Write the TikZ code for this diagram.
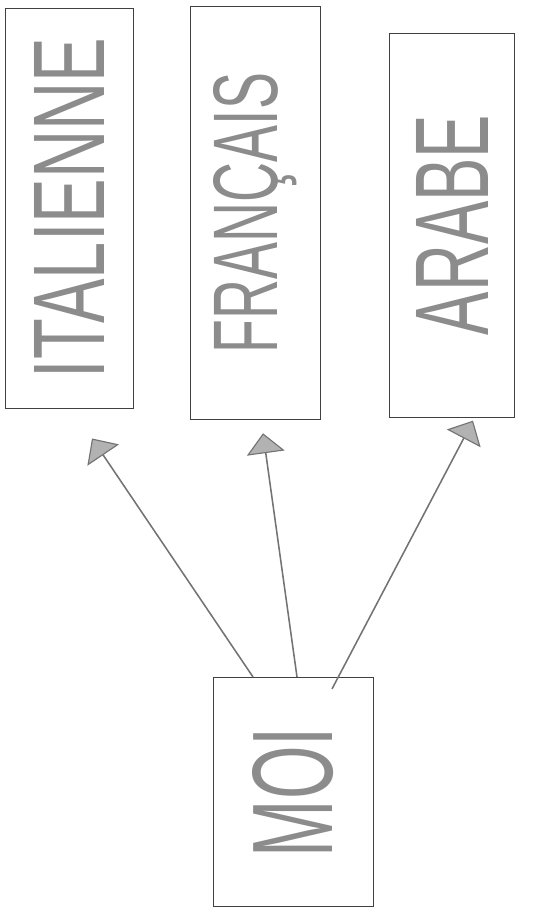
\documentclass[tikz,border=0pt]{standalone}
\usepackage{graphicx}
\usepackage{fontspec}
\setmainfont{Liberation Sans}
\usetikzlibrary{arrows.meta}

% rotated, stretched hand lettering
\newcommand{\handtext}[3]{\rotatebox{90}{\resizebox{#2}{#3}{#1}}}

\begin{document}
\begin{tikzpicture}[x=0.025cm,y=-0.025cm,
  langbox/.style={draw=black!75, line width=0.6pt, inner sep=0pt, text=black!45},
  arrowline/.style={draw=black!55, line width=1.1pt,
    -{Triangle[length=0.5cm,width=0.95cm,fill=black!30,line width=0.8pt]}}]

\useasboundingbox (0,0) rectangle (540,912);

\node[langbox, minimum width=3.2cm, minimum height=10cm] (ital) at (69,208)
  {\handtext{ITALIENNE}{8.5cm}{1.75cm}};
\node[langbox, minimum width=3.25cm, minimum height=10.33cm] (fran) at (255,213)
  {\handtext{FRANÇAIS}{7cm}{1.6cm}};
\node[langbox, minimum width=3.125cm, minimum height=9.6cm] (arab) at (452,225)
  {\handtext{ARABE}{5.5cm}{1.8cm}};

\node[langbox, minimum width=4cm, minimum height=5.73cm] (moi) at (293,792)
  {\handtext{MOI}{3.25cm}{2cm}};

% fleches
\draw[arrowline] ([xshift=-1cm]moi.north) -- ([xshift=0.575cm,yshift=-0.75cm]ital.south);
\draw[arrowline] ([xshift=0.1cm]moi.north) -- ([xshift=0.2cm,yshift=-0.33cm]fran.south);
\draw[arrowline] ([xshift=0.975cm,yshift=-0.3cm]moi.north) -- ([xshift=0.525cm,yshift=-0.08cm]arab.south);

\end{tikzpicture}
\end{document}
